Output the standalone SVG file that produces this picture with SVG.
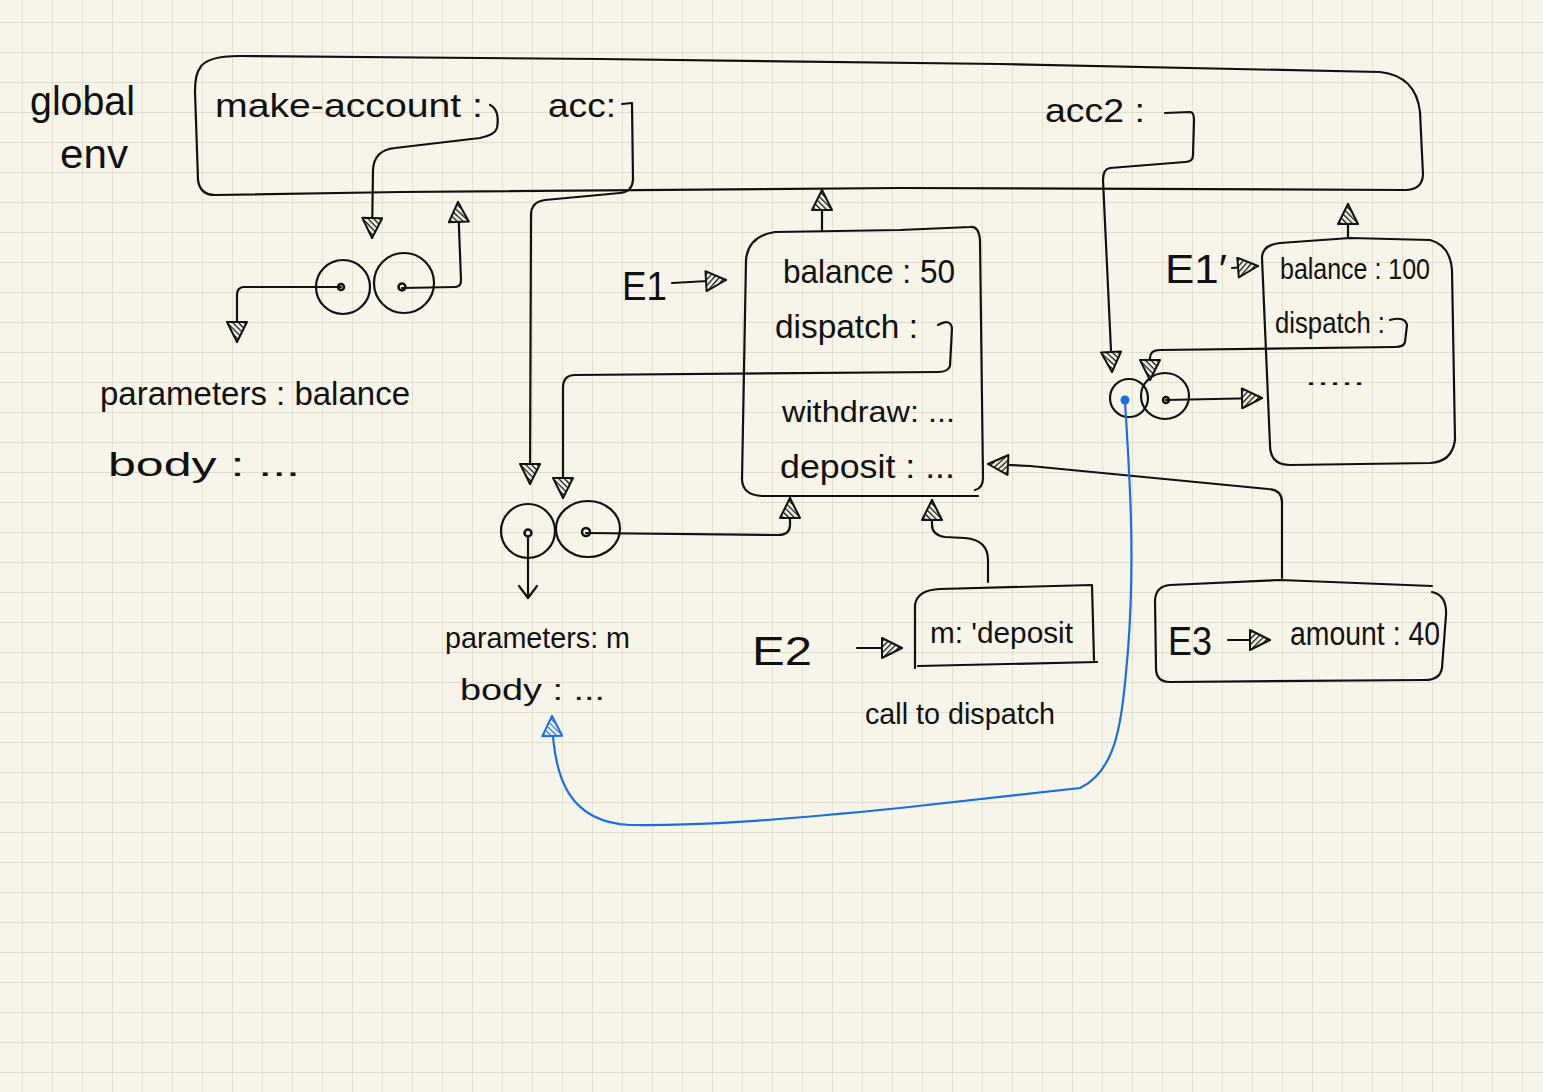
<svg xmlns="http://www.w3.org/2000/svg" width="1543" height="1092" viewBox="0 0 1543 1092">
<style>
.t{font-family:"Liberation Sans","DejaVu Sans",sans-serif;fill:#111;}
.ln{fill:none;stroke:#111;stroke-width:2.2;stroke-linecap:round;stroke-linejoin:round;}
.bl{fill:none;stroke:#1a6fe0;stroke-width:2.2;stroke-linecap:round;}
.a{marker-end:url(#arr);}
.c{fill:none;stroke:#111;stroke-width:2.2;}
.dot{fill:none;stroke:#111;stroke-width:2.5;}
</style>
<defs>
<pattern id="grid" x="22" y="22" width="30" height="30" patternUnits="userSpaceOnUse">
<path d="M0 0H30M0 0V30" fill="none" stroke="#d8d5c6" stroke-width="1.3"/>
</pattern>
<pattern id="hatch" width="4" height="4" patternUnits="userSpaceOnUse" patternTransform="rotate(45)">
<rect width="4" height="4" fill="#f7f5e9"/>
<path d="M0 0V4" stroke="#111" stroke-width="2.6"/>
</pattern>
<pattern id="hatchb" width="4" height="4" patternUnits="userSpaceOnUse" patternTransform="rotate(45)">
<rect width="4" height="4" fill="#eaf1fb"/>
<path d="M0 0V4" stroke="#1a6fe0" stroke-width="2.2"/>
</pattern>
<marker id="arr" markerUnits="userSpaceOnUse" viewBox="0 0 24 22" markerWidth="24" markerHeight="22" refX="22" refY="11" orient="auto">
<path d="M2 1L22 11L2 21Z" fill="url(#hatch)" stroke="#111" stroke-width="2" stroke-linejoin="round"/>
</marker>
<marker id="arrb" markerUnits="userSpaceOnUse" viewBox="0 0 24 22" markerWidth="24" markerHeight="22" refX="22" refY="11" orient="auto">
<path d="M2 1L22 11L2 21Z" fill="url(#hatchb)" stroke="#1a6fe0" stroke-width="2" stroke-linejoin="round"/>
</marker>
</defs>
<rect width="1543" height="1092" fill="#f7f5e9"/>
<rect width="1543" height="1092" fill="url(#grid)"/>

<g id="global-env">
<path class="ln" d="M200 68Q206 56 240 56L600 59L1000 64L1380 72Q1416 76 1420 112L1423 175Q1422 190 1405 190L900 188L400 192L215 195Q200 195 198 180L195 92Q195 74 200 68Z"/>
<text class="t" x="30" y="115" font-size="40" textLength="105" lengthAdjust="spacingAndGlyphs">global</text>
<text class="t" x="60" y="168" font-size="40" textLength="68" lengthAdjust="spacingAndGlyphs">env</text>
<text class="t" x="215" y="117" font-size="34" textLength="268" lengthAdjust="spacingAndGlyphs">make-account :</text>
<text class="t" x="548" y="117" font-size="34" textLength="68" lengthAdjust="spacingAndGlyphs">acc:</text>
<text class="t" x="1045" y="122" font-size="34" textLength="100" lengthAdjust="spacingAndGlyphs">acc2 :</text>
</g>

<g id="proc-make-account">
<circle class="c" cx="343" cy="287" r="27"/>
<ellipse class="c" cx="404" cy="283" rx="30" ry="30"/>
<circle class="dot" cx="341" cy="287" r="3"/>
<circle class="dot" cx="402" cy="287" r="3.5"/>
<text class="t" x="100" y="405" font-size="34" textLength="310" lengthAdjust="spacingAndGlyphs">parameters : balance</text>
<text class="t" x="108" y="476" font-size="34" textLength="192" lengthAdjust="spacingAndGlyphs">body :    ...</text>
</g>

<g id="E1">
<path class="ln" d="M975 490Q983 488 983 478L980 240Q979 226 970 227L900 230L775 232Q748 236 746 260L742 480Q743 495 762 496L978 496"/>
<text class="t" x="622" y="300" font-size="40" textLength="45" lengthAdjust="spacingAndGlyphs">E1</text>
<text class="t" x="783" y="283" font-size="34" textLength="172" lengthAdjust="spacingAndGlyphs">balance : 50</text>
<text class="t" x="775" y="338" font-size="34" textLength="143" lengthAdjust="spacingAndGlyphs">dispatch :</text>
<text class="t" x="782" y="422" font-size="30" textLength="173" lengthAdjust="spacingAndGlyphs">withdraw: ...</text>
<text class="t" x="780" y="478" font-size="34" textLength="175" lengthAdjust="spacingAndGlyphs">deposit :  ...</text>
</g>

<g id="proc-dispatch">
<circle class="c" cx="528" cy="531" r="27"/>
<ellipse class="c" cx="588" cy="529" rx="32" ry="28"/>
<circle class="dot" cx="528" cy="533" r="3.5"/>
<circle class="dot" cx="586" cy="532" r="4"/>
<text class="t" x="445" y="648" font-size="30" textLength="185" lengthAdjust="spacingAndGlyphs">parameters: m</text>
<text class="t" x="460" y="700" font-size="30" textLength="145" lengthAdjust="spacingAndGlyphs">body : ...</text>
</g>

<g id="E2">
<path class="ln" d="M915 668L915 605Q917 590 940 589L1092 585L1094 660M918 666L1097 662"/>
<text class="t" x="752" y="665" font-size="40" textLength="60" lengthAdjust="spacingAndGlyphs">E2</text>
<text class="t" x="930" y="643" font-size="30" textLength="143" lengthAdjust="spacingAndGlyphs">m: 'deposit</text>
<text class="t" x="865" y="724" font-size="30" textLength="190" lengthAdjust="spacingAndGlyphs">call to dispatch</text>
</g>

<g id="E3">
<path class="ln" d="M1170 585L1280 580L1432 586M1432 592Q1447 595 1446 615L1442 668Q1440 680 1425 680L1170 682Q1156 682 1156 668L1155 600Q1156 586 1170 585"/>
<text class="t" x="1168" y="655" font-size="40" textLength="44" lengthAdjust="spacingAndGlyphs">E3</text>
<text class="t" x="1290" y="645" font-size="34" textLength="150" lengthAdjust="spacingAndGlyphs">amount : 40</text>
</g>

<g id="E1-prime">
<path class="ln" d="M1262 258Q1262 245 1280 243L1350 238L1430 240Q1450 245 1452 270L1455 440Q1452 462 1430 463L1290 465Q1270 465 1270 445Z"/>
<text class="t" x="1165" y="283" font-size="40" textLength="62" lengthAdjust="spacingAndGlyphs">E1′</text>
<text class="t" x="1280" y="279" font-size="30" textLength="150" lengthAdjust="spacingAndGlyphs">balance : 100</text>
<text class="t" x="1275" y="333" font-size="30" textLength="110" lengthAdjust="spacingAndGlyphs">dispatch :</text>
<text class="t" x="1305" y="385" font-size="24" textLength="60" lengthAdjust="spacingAndGlyphs">.....</text>
</g>

<g id="proc-acc2">
<ellipse class="c" cx="1129" cy="398" rx="19" ry="19"/>
<ellipse class="c" cx="1165" cy="396" rx="24" ry="23"/>
<circle cx="1125" cy="400" r="4.5" fill="#1a6fe0"/>
<circle class="dot" cx="1166" cy="400" r="3"/>
</g>

<g id="connectors">
<path class="ln a" d="M490 105Q500 110 497 128Q495 135 480 138L395 148Q374 150 373 170L372 238"/>
<path class="ln a" d="M622 104L632 103L633 180Q632 192 620 193L545 200Q531 202 531 215L530 484"/>
<path class="ln a" d="M341 287L243 287Q237 288 237 295L237 342"/>
<path class="ln a" d="M402 288L455 287Q461 287 461 280L458 202"/>
<path class="ln a" d="M822 230L822 190"/>
<path class="ln a" d="M672 283L726 280"/>
<path class="ln a" d="M938 325Q950 318 952 328L950 366Q948 372 938 372L575 375Q563 375 563 388L563 498"/>
<path class="ln" d="M528 536L528 597M519 586L528 598L537 586"/>
<path class="ln a" d="M586 533L778 535Q790 535 790 525L790 498"/>
<path class="ln a" d="M988 582L988 560Q988 540 965 538L945 537Q932 535 932 525L932 500"/>
<path class="ln a" d="M857 648L902 648"/>
<path class="ln a" d="M1282 578L1282 502Q1282 490 1268 489L1030 466L988 464"/>
<path class="ln a" d="M1228 640L1270 640"/>
<path class="ln a" d="M1165 113L1190 112Q1194 112 1194 120L1193 155Q1193 162 1185 162L1110 168Q1103 169 1103 180L1112 372"/>
<path class="ln a" d="M1348 238L1348 204"/>
<path class="ln a" d="M1232 268L1258 266"/>
<path class="ln a" d="M1390 320Q1405 316 1407 325L1405 342Q1404 347 1395 347L1160 350Q1150 350 1150 358L1150 380"/>
<path class="ln a" d="M1166 400L1262 398"/>
<path class="bl" marker-end="url(#arrb)" d="M1125 402C1130 480 1135 560 1128 650C1122 720 1118 770 1080 788L900 808C780 820 700 826 630 825C570 822 553 780 552 716"/>
</g>
</svg>
